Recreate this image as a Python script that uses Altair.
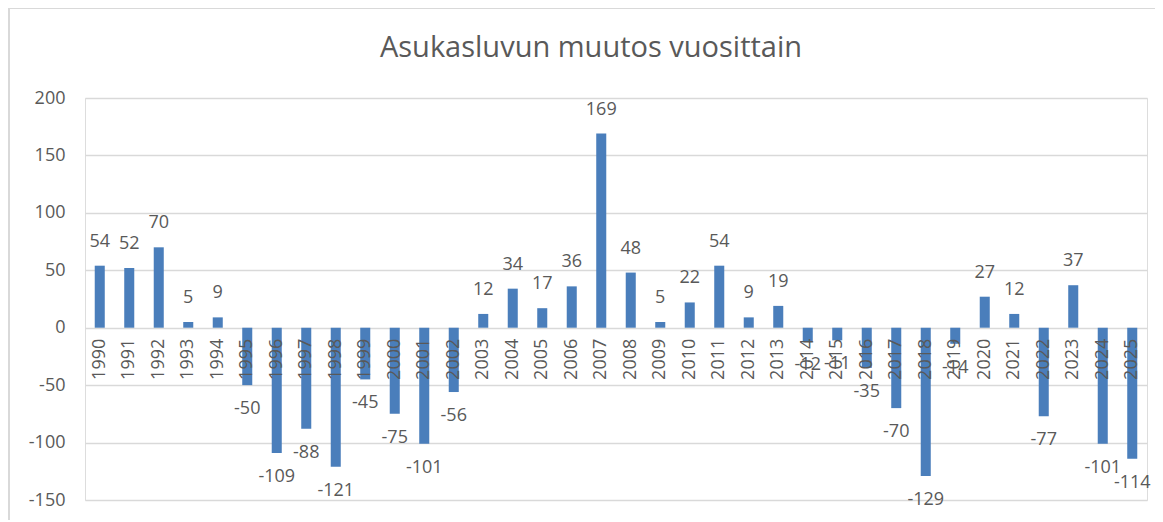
import altair as alt
import pandas as pd

years = [str(y) for y in range(1990, 2026)]
values = [54, 52, 70, 5, 9, -50, -109, -88, -121, -45, -75, -101, -56, 12, 34, 17, 36, 169,
          48, 5, 22, 54, 9, 19, -12, -11, -35, -70, -129, -14, 27, 12, -77, 37, -101, -114]
title_text = ["Asukasluvun muutos vuosittain"]
y_ticks = [-150, -100, -50, 0, 50, 100, 150, 200]

df = pd.DataFrame({"year": years, "value": values})

FONT = "Open Sans"
GREY = "#595959"
BLUE = "#4a7ebb"

x_enc = alt.X("year:N", sort=years, axis=None,
              scale=alt.Scale(paddingInner=0.66, paddingOuter=0.33))
y_scale = alt.Scale(domain=[-150, 200], nice=False, zero=False)

base = alt.Chart(df).transform_calculate(label="toString(datum.value)")

bars = base.mark_bar(color=BLUE).encode(
    x=x_enc,
    y=alt.Y("value:Q", scale=y_scale, title=None,
            axis=alt.Axis(values=y_ticks, grid=True, gridColor="#d9d9d9", gridWidth=1.3,
                          domain=False, ticks=False, labelPadding=20,
                          labelExpr="toString(datum.value)",
                          labelFont=FONT, labelFontSize=18, labelColor=GREY)),
)

pos_labels = base.transform_filter("datum.value >= 0").mark_text(
    font=FONT, fontSize=18, color=GREY, baseline="middle", dy=-24
).encode(x=x_enc, y=alt.Y("value:Q", scale=y_scale), text="label:N")

neg_labels = base.transform_filter("datum.value < 0").mark_text(
    font=FONT, fontSize=18, color=GREY, baseline="middle", dy=24
).encode(x=x_enc, y=alt.Y("value:Q", scale=y_scale), text="label:N")

year_labels = base.mark_text(
    font=FONT, fontSize=18, color=GREY, angle=270, align="right", baseline="middle", dx=-11
).encode(x=x_enc, y=alt.datum(0, scale=y_scale), text="year:N")

border = base.mark_rect(fill=None, stroke="#d9d9d9", strokeWidth=2, clip=False).encode(
    x=alt.value(-76), x2=alt.value(1077), y=alt.value(-90), y2=alt.value(440)
)

title = alt.Chart(pd.DataFrame({"t": title_text})).mark_text(
    font=FONT, fontSize=29, color=GREY, align="center", baseline="middle"
).encode(x=alt.value(506), y=alt.value(-50), text="t:N")

chart = alt.layer(border, bars, pos_labels, neg_labels, year_labels, title).properties(
    width=1062, height=402,
    autosize=alt.AutoSizeParams(type="none"),
    padding={"left": 77, "top": 90, "right": 8, "bottom": 20},
).configure_view(stroke=None).configure(background="white")

chart.save("out.html", embed_options={"renderer": "svg", "actions": False})
